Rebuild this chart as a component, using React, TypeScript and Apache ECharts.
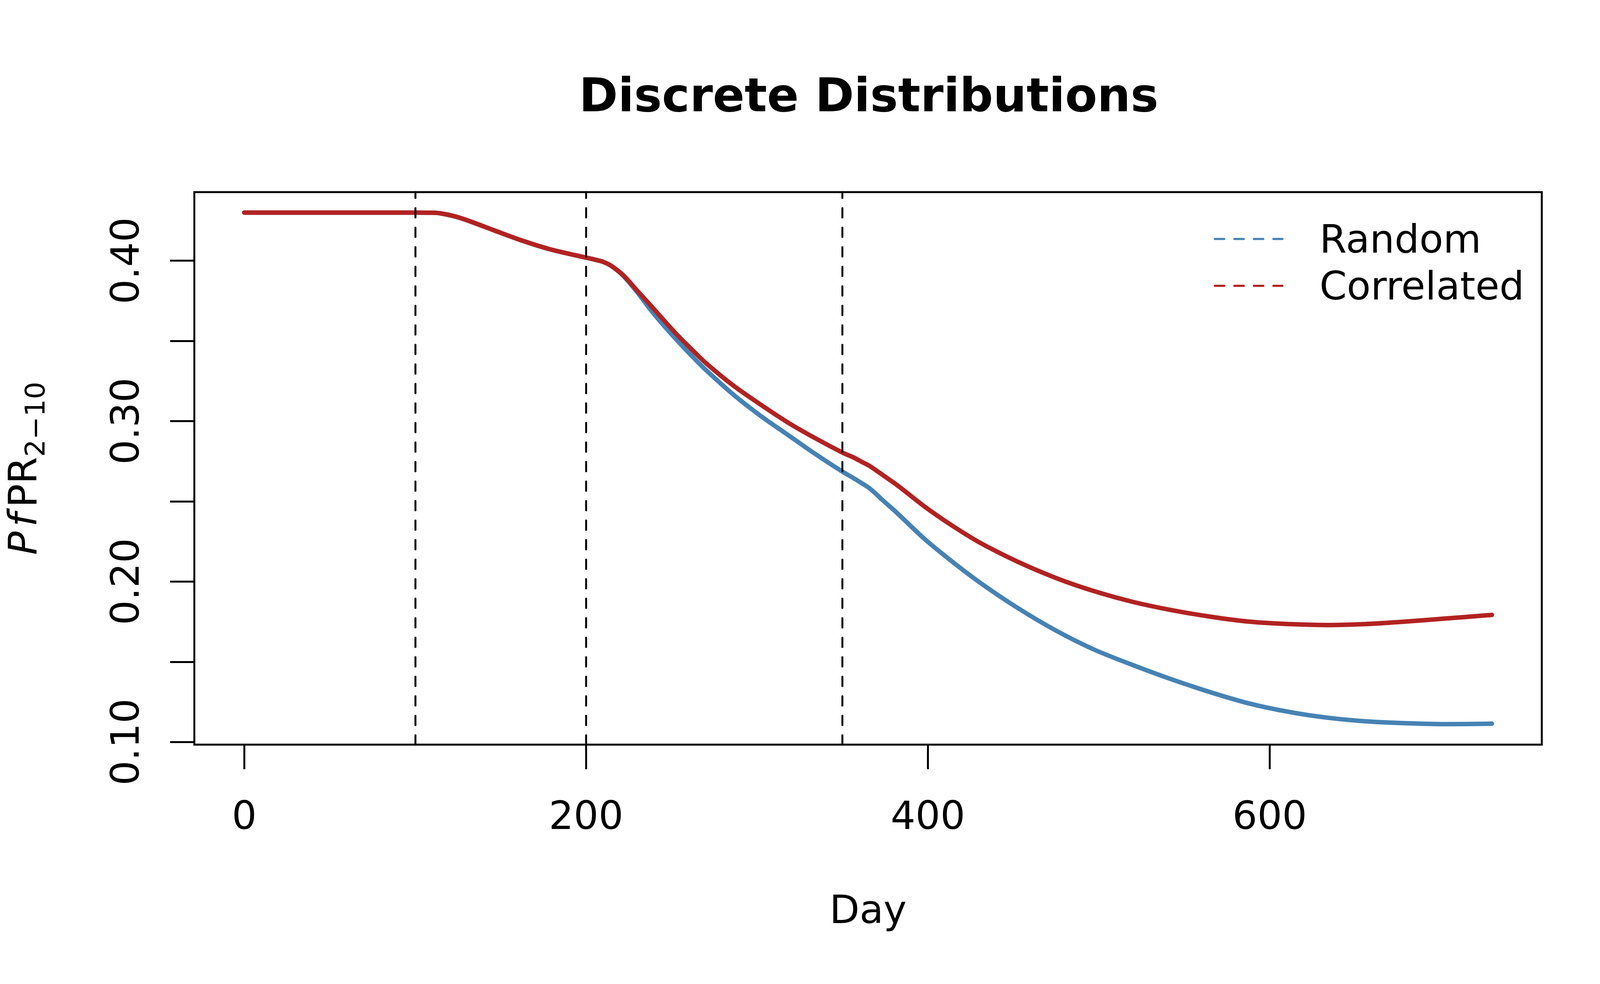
import React, { useEffect, useRef } from "react";
import * as echarts from "echarts";

// ---- data ----
const days = [
  0, 100, 110, 115, 123, 131, 147, 163, 179, 195, 205, 210, 215, 222, 230, 238,
  246, 254, 262, 270, 286, 302, 318, 334, 350, 356, 361, 366, 374, 382, 398,
  414, 430, 452, 475, 497, 520, 543, 566, 588, 611, 634, 656, 679, 702, 730,
];

const randomVals = [
  0.43, 0.43, 0.4299, 0.4295, 0.4277, 0.425, 0.4186, 0.4124, 0.4071, 0.4031,
  0.4007, 0.3993, 0.3966, 0.3903, 0.3803, 0.3691, 0.359, 0.3495, 0.3405, 0.332,
  0.3167, 0.3034, 0.2915, 0.2796, 0.2685, 0.2648, 0.2615, 0.258, 0.2503,
  0.2427, 0.2266, 0.2126, 0.1997, 0.1839, 0.1694, 0.1577, 0.1479, 0.1389,
  0.1308, 0.124, 0.1188, 0.1151, 0.1129, 0.1117, 0.1111, 0.1114,
];

const correlatedVals = [
  0.43, 0.43, 0.4299, 0.4295, 0.4277, 0.425, 0.4186, 0.4124, 0.4071, 0.4031,
  0.4007, 0.3993, 0.3966, 0.3907, 0.3812, 0.3719, 0.3623, 0.353, 0.3445,
  0.3363, 0.3223, 0.3104, 0.2992, 0.2894, 0.2804, 0.2776, 0.2748, 0.272,
  0.2661, 0.2601, 0.2468, 0.235, 0.2245, 0.2126, 0.2022, 0.1941, 0.1873,
  0.1821, 0.178, 0.175, 0.1735, 0.1729, 0.1735, 0.175, 0.1769, 0.1792,
];

const interventionDays = [100, 200, 350];
const xTickValues = [0, 200, 400, 600];
const yTickValues = [0.1, 0.15, 0.2, 0.25, 0.3, 0.35, 0.4];
const yLabelValues = [0.1, 0.2, 0.3, 0.4];
const seriesNames = ["Random", "Correlated"];
const seriesColors = ["#4682B4", "#B22222"];

// axis limits: data range extended by 4% on each side (R default)
const xMin = -29.2;
const xMax = 759.2;
const yMin = 0.09834;
const yMax = 0.44276;

const FONT = "DejaVu Sans";

export default function App() {
  const ref = useRef<HTMLDivElement>(null);

  useEffect(() => {
    document.body.style.margin = "0";
    if (!ref.current) return;
    const chart = echarts.init(ref.current, undefined, { renderer: "svg" });

    const mk = (vals: number[]) => days.map((d, i) => [d, vals[i]]);

    const option: any = {
      animation: false,
      backgroundColor: "#ffffff",
      grid: {
        left: 490,
        top: 492,
        width: 3457,
        height: 1415,
        show: true,
        borderColor: "#000000",
        borderWidth: 5,
        backgroundColor: "transparent",
      },
      xAxis: {
        type: "value",
        min: xMin,
        max: xMax,
        name: "Day",
        nameLocation: "middle",
        nameGap: 422,
        nameTextStyle: {
          fontFamily: FONT,
          fontSize: 100,
          color: "#000",
          verticalAlign: "middle",
        },
        axisLine: { show: false, onZero: false },
        splitLine: { show: false },
        axisTick: {
          show: true,
          customValues: xTickValues,
          length: 63,
          lineStyle: { color: "#000", width: 5 },
        },
        axisLabel: {
          show: true,
          customValues: xTickValues,
          fontFamily: FONT,
          fontSize: 100,
          color: "#000",
          margin: 131,
          formatter: (v: number) => String(v),
        },
      },
      yAxis: {
        type: "value",
        min: yMin,
        max: yMax,
        name: "{i|P}{f|f}{n|PR}{s|2\u221210}",
        nameLocation: "middle",
        nameRotate: 90,
        nameGap: 431,
        nameTextStyle: {
          fontFamily: FONT,
          color: "#000",
          align: "center",
          verticalAlign: "middle",
          rich: {
            i: {
              fontFamily: FONT,
              fontStyle: "italic",
              fontSize: 100,
              lineHeight: 117,
              verticalAlign: "top",
              color: "#000",
            },
            f: {
              fontFamily: FONT,
              fontStyle: "italic",
              fontSize: 100,
              lineHeight: 117,
              verticalAlign: "top",
              padding: [0, 14, 0, 12],
              color: "#000",
            },
            n: {
              fontFamily: FONT,
              fontSize: 100,
              lineHeight: 117,
              verticalAlign: "top",
              color: "#000",
            },
            s: {
              fontFamily: FONT,
              fontSize: 70,
              lineHeight: 117,
              verticalAlign: "bottom",
              color: "#000",
            },
          },
        },
        axisLine: { show: false, onZero: false },
        splitLine: { show: false },
        axisTick: {
          show: true,
          customValues: yTickValues,
          length: 62,
          lineStyle: { color: "#000", width: 5 },
        },
        axisLabel: {
          show: true,
          customValues: yLabelValues,
          rotate: 90,
          fontFamily: FONT,
          fontSize: 100,
          color: "#000",
          margin: 127,
          formatter: (v: number) => v.toFixed(2),
        },
      },
      graphic: [
        {
          type: "text",
          x: 2224,
          y: 243,
          style: {
            text: "Discrete Distributions",
            fontFamily: FONT,
            fontWeight: "bold",
            fontSize: 120,
            fill: "#000",
            align: "center",
            verticalAlign: "middle",
          },
        },
        ...seriesNames.flatMap((name, i) => [
          {
            type: "line",
            shape: { x1: 3110, y1: 612 + i * 120, x2: 3283, y2: 612 + i * 120 },
            style: {
              stroke: seriesColors[i],
              lineWidth: 5.5,
              lineDash: [24, 26],
              lineCap: "round",
            },
          },
          {
            type: "text",
            x: 3378,
            y: 612 + i * 120,
            style: {
              text: name,
              fontFamily: FONT,
              fontSize: 100,
              fill: "#000",
              align: "left",
              verticalAlign: "middle",
            },
          },
        ]),
      ],
      series: [
        {
          name: seriesNames[0],
          type: "line",
          data: mk(randomVals),
          showSymbol: false,
          symbol: "none",
          smooth: 0.3,
          lineStyle: { color: seriesColors[0], width: 11.5, cap: "round", join: "round" },
          z: 2,
        },
        {
          name: seriesNames[1],
          type: "line",
          data: mk(correlatedVals),
          showSymbol: false,
          symbol: "none",
          smooth: 0.3,
          lineStyle: { color: seriesColors[1], width: 11.5, cap: "round", join: "round" },
          z: 3,
          markLine: {
            silent: true,
            symbol: ["none", "none"],
            label: { show: false },
            lineStyle: { color: "#000", type: [24, 26], width: 5, cap: "round" },
            data: interventionDays.map((d) => ({ xAxis: d })),
          },
        },
      ],
    };

    chart.setOption(option);
    return () => chart.dispose();
  }, []);

  return (
    <div
      ref={ref}
      style={{ width: "4200px", height: "2520px", background: "#ffffff" }}
    />
  );
}
